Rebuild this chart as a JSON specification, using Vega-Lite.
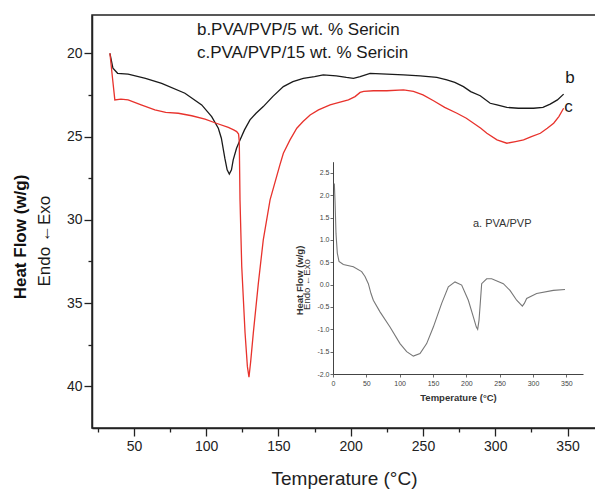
{
  "$schema": "https://vega.github.io/schema/vega-lite/v6.json",
  "width": 504,
  "height": 413,
  "autosize": {"type": "none"},
  "padding": {"left": 92, "top": 15, "right": 0, "bottom": 63},
  "background": "white",
  "config": {
    "view": {"stroke": "#222", "strokeWidth": 1.5},
    "font": "Liberation Sans",
    "axis": {"grid": false, "labelFont": "Liberation Sans", "titleFont": "Liberation Sans"}
  },
  "datasets": {
    "main": [
      {"curve": "b", "t": 33.4, "hf": 20.0},
      {"curve": "b", "t": 35.5, "hf": 20.9},
      {"curve": "b", "t": 38.7, "hf": 21.2},
      {"curve": "b", "t": 46, "hf": 21.25},
      {"curve": "b", "t": 58, "hf": 21.5},
      {"curve": "b", "t": 69.2, "hf": 21.8},
      {"curve": "b", "t": 85.3, "hf": 22.4},
      {"curve": "b", "t": 96.9, "hf": 23.1},
      {"curve": "b", "t": 103.8, "hf": 23.8},
      {"curve": "b", "t": 108.4, "hf": 24.5},
      {"curve": "b", "t": 110.5, "hf": 25.1},
      {"curve": "b", "t": 112.9, "hf": 26.3},
      {"curve": "b", "t": 114.5, "hf": 27.0},
      {"curve": "b", "t": 116, "hf": 27.25},
      {"curve": "b", "t": 117.5, "hf": 27.0},
      {"curve": "b", "t": 118.7, "hf": 26.4},
      {"curve": "b", "t": 121, "hf": 25.7},
      {"curve": "b", "t": 123.4, "hf": 25.2},
      {"curve": "b", "t": 126.5, "hf": 24.6},
      {"curve": "b", "t": 130.3, "hf": 24.0},
      {"curve": "b", "t": 134.5, "hf": 23.6},
      {"curve": "b", "t": 139.5, "hf": 23.2},
      {"curve": "b", "t": 146, "hf": 22.6},
      {"curve": "b", "t": 153.4, "hf": 22.0},
      {"curve": "b", "t": 160, "hf": 21.7},
      {"curve": "b", "t": 167.2, "hf": 21.5},
      {"curve": "b", "t": 175, "hf": 21.4},
      {"curve": "b", "t": 181, "hf": 21.3},
      {"curve": "b", "t": 190, "hf": 21.35},
      {"curve": "b", "t": 197, "hf": 21.45},
      {"curve": "b", "t": 201.9, "hf": 21.5},
      {"curve": "b", "t": 206.5, "hf": 21.4},
      {"curve": "b", "t": 213.4, "hf": 21.2},
      {"curve": "b", "t": 225, "hf": 21.25},
      {"curve": "b", "t": 236.5, "hf": 21.3},
      {"curve": "b", "t": 248, "hf": 21.35},
      {"curve": "b", "t": 259.6, "hf": 21.45},
      {"curve": "b", "t": 266.5, "hf": 21.6},
      {"curve": "b", "t": 272, "hf": 21.75},
      {"curve": "b", "t": 278, "hf": 22.0},
      {"curve": "b", "t": 283, "hf": 22.3},
      {"curve": "b", "t": 289.6, "hf": 22.55},
      {"curve": "b", "t": 296.5, "hf": 23.0},
      {"curve": "b", "t": 301.2, "hf": 23.1},
      {"curve": "b", "t": 308, "hf": 23.25},
      {"curve": "b", "t": 316, "hf": 23.3},
      {"curve": "b", "t": 326.5, "hf": 23.3},
      {"curve": "b", "t": 333, "hf": 23.25},
      {"curve": "b", "t": 338, "hf": 23.05},
      {"curve": "b", "t": 343, "hf": 22.8},
      {"curve": "b", "t": 347.3, "hf": 22.45},
      {"curve": "c", "t": 33.4, "hf": 20.0},
      {"curve": "c", "t": 35.2, "hf": 21.5},
      {"curve": "c", "t": 36.8, "hf": 22.8},
      {"curve": "c", "t": 41, "hf": 22.75},
      {"curve": "c", "t": 46, "hf": 22.8},
      {"curve": "c", "t": 55, "hf": 23.1},
      {"curve": "c", "t": 64.5, "hf": 23.4},
      {"curve": "c", "t": 72, "hf": 23.55},
      {"curve": "c", "t": 80.7, "hf": 23.6},
      {"curve": "c", "t": 90, "hf": 23.75},
      {"curve": "c", "t": 99.2, "hf": 23.95},
      {"curve": "c", "t": 107, "hf": 24.2},
      {"curve": "c", "t": 115.3, "hf": 24.45},
      {"curve": "c", "t": 119, "hf": 24.6},
      {"curve": "c", "t": 121.1, "hf": 24.7},
      {"curve": "c", "t": 122.4, "hf": 24.85},
      {"curve": "c", "t": 122.9, "hf": 25.3},
      {"curve": "c", "t": 123.4, "hf": 28.8},
      {"curve": "c", "t": 124.6, "hf": 32.8},
      {"curve": "c", "t": 126.9, "hf": 36.8},
      {"curve": "c", "t": 128.5, "hf": 38.8},
      {"curve": "c", "t": 129.6, "hf": 39.45},
      {"curve": "c", "t": 130.8, "hf": 38.5},
      {"curve": "c", "t": 132.6, "hf": 36.8},
      {"curve": "c", "t": 136.1, "hf": 33.8},
      {"curve": "c", "t": 139.5, "hf": 31.2},
      {"curve": "c", "t": 144.2, "hf": 28.8},
      {"curve": "c", "t": 151, "hf": 26.7},
      {"curve": "c", "t": 153.4, "hf": 26.0},
      {"curve": "c", "t": 158, "hf": 25.2},
      {"curve": "c", "t": 162.7, "hf": 24.5},
      {"curve": "c", "t": 167, "hf": 24.1},
      {"curve": "c", "t": 171.9, "hf": 23.7},
      {"curve": "c", "t": 177.7, "hf": 23.4},
      {"curve": "c", "t": 185.7, "hf": 23.1},
      {"curve": "c", "t": 192, "hf": 22.95},
      {"curve": "c", "t": 198.4, "hf": 22.8},
      {"curve": "c", "t": 203, "hf": 22.6},
      {"curve": "c", "t": 206.5, "hf": 22.35},
      {"curve": "c", "t": 209, "hf": 22.28},
      {"curve": "c", "t": 215.7, "hf": 22.25},
      {"curve": "c", "t": 225, "hf": 22.25},
      {"curve": "c", "t": 236.5, "hf": 22.2},
      {"curve": "c", "t": 243.4, "hf": 22.28},
      {"curve": "c", "t": 250, "hf": 22.5},
      {"curve": "c", "t": 257.3, "hf": 22.85},
      {"curve": "c", "t": 265, "hf": 23.25},
      {"curve": "c", "t": 273.5, "hf": 23.6},
      {"curve": "c", "t": 280, "hf": 23.9},
      {"curve": "c", "t": 285, "hf": 24.2},
      {"curve": "c", "t": 290, "hf": 24.5},
      {"curve": "c", "t": 294.2, "hf": 24.8},
      {"curve": "c", "t": 301.2, "hf": 25.2},
      {"curve": "c", "t": 308, "hf": 25.4},
      {"curve": "c", "t": 314, "hf": 25.3},
      {"curve": "c", "t": 319.6, "hf": 25.2},
      {"curve": "c", "t": 325, "hf": 25.0},
      {"curve": "c", "t": 331.2, "hf": 24.8},
      {"curve": "c", "t": 336, "hf": 24.5},
      {"curve": "c", "t": 340.4, "hf": 24.2},
      {"curve": "c", "t": 344, "hf": 23.8},
      {"curve": "c", "t": 347.3, "hf": 23.3}
    ],
    "labels": [
      {"t": 93.6, "hf": 18.9, "label": "b.PVA/PVP/5 wt. % Sericin"},
      {"t": 93.6, "hf": 20.28, "label": "c.PVA/PVP/15 wt. % Sericin"},
      {"t": 348.5, "hf": 21.79, "label": "b"},
      {"t": 347.8, "hf": 23.53, "label": "c"}
    ],
    "inset": [
      {"t": 2, "hf": 2.26},
      {"t": 3, "hf": 1.89},
      {"t": 4.5, "hf": 1.14},
      {"t": 6.5, "hf": 0.70},
      {"t": 9, "hf": 0.52},
      {"t": 15.5, "hf": 0.45},
      {"t": 30.5, "hf": 0.40},
      {"t": 43, "hf": 0.29},
      {"t": 48, "hf": 0.18},
      {"t": 53, "hf": 0.02},
      {"t": 57, "hf": -0.2},
      {"t": 60.5, "hf": -0.35},
      {"t": 70.5, "hf": -0.61},
      {"t": 85.5, "hf": -0.95},
      {"t": 100.5, "hf": -1.32},
      {"t": 110.5, "hf": -1.50},
      {"t": 120.5, "hf": -1.60},
      {"t": 130.5, "hf": -1.54},
      {"t": 140.5, "hf": -1.32},
      {"t": 150.5, "hf": -0.95},
      {"t": 163, "hf": -0.42},
      {"t": 173, "hf": -0.05},
      {"t": 183, "hf": 0.06},
      {"t": 193, "hf": -0.01},
      {"t": 203, "hf": -0.35},
      {"t": 210.5, "hf": -0.72},
      {"t": 215, "hf": -0.95},
      {"t": 217, "hf": -1.0},
      {"t": 219, "hf": -0.8},
      {"t": 220.5, "hf": -0.5},
      {"t": 223, "hf": 0.02},
      {"t": 230.5, "hf": 0.13},
      {"t": 238, "hf": 0.13},
      {"t": 255.5, "hf": 0.02},
      {"t": 265.5, "hf": -0.13},
      {"t": 275.5, "hf": -0.35},
      {"t": 284, "hf": -0.48},
      {"t": 287, "hf": -0.42},
      {"t": 290.5, "hf": -0.31},
      {"t": 305.5, "hf": -0.2},
      {"t": 330.5, "hf": -0.13},
      {"t": 348, "hf": -0.11}
    ]
  },
  "layer": [
    {
      "layer": [
        {
          "data": {"name": "main"},
          "mark": {"type": "line", "strokeWidth": 1.3},
          "encoding": {
            "x": {
              "field": "t", "type": "quantitative",
              "scale": {"domain": [21, 369.7], "nice": false, "zero": false},
              "axis": {
                "orient": "bottom",
                "values": [50, 100, 150, 200, 250, 300, 350],
                "tickSize": 8,
                "tickColor": "#222", "tickWidth": 1.3,
                "domainColor": "#222", "domainWidth": 1.5,
                "labelFontSize": 14, "labelColor": "#222", "labelPadding": 3,
                "labelFlush": false, "labelOverlap": false,
                "title": "Temperature (°C)", "titleFontSize": 19, "titleFontWeight": "normal",
                "titleColor": "#222", "titleY": 56, "titleBaseline": "alphabetic"
              }
            },
            "y": {
              "field": "hf", "type": "quantitative",
              "scale": {"domain": [17.7, 42.5], "reverse": true, "nice": false, "zero": false},
              "axis": {
                "orient": "left",
                "values": [20, 25, 30, 35, 40],
                "tickSize": 8,
                "tickColor": "#222", "tickWidth": 1.3,
                "domainColor": "#222", "domainWidth": 1.5,
                "labelFontSize": 14, "labelColor": "#222", "labelPadding": 2,
                "labelFlush": false, "labelOverlap": false,
                "title": "Heat Flow (w/g)", "titleFontSize": 17, "titleFontWeight": "bold",
                "titleColor": "#111", "titleAngle": 270, "titleX": -67, "titleY": 221.5,
                "titleAlign": "center", "titleBaseline": "alphabetic"
              }
            },
            "color": {
              "field": "curve", "type": "nominal",
              "scale": {"domain": ["b", "c"], "range": ["#1a1a1a", "#e8322c"]},
              "legend": null
            }
          }
        },
        {
          "data": {"name": "labels"},
          "mark": {"type": "text", "fontSize": 17, "align": "left", "baseline": "alphabetic", "color": "#1a1a1a"},
          "encoding": {
            "x": {"field": "t", "type": "quantitative"},
            "y": {"field": "hf", "type": "quantitative"},
            "text": {"field": "label"}
          }
        },
        {
          "data": {"values": [{"t": 21, "hf": 31.28, "label": "Endo ←Exo"}]},
          "mark": {"type": "text", "angle": 270, "dy": -42, "fontSize": 17, "align": "center", "baseline": "alphabetic", "color": "#1a1a1a"},
          "encoding": {
            "x": {"field": "t", "type": "quantitative"},
            "y": {"field": "hf", "type": "quantitative"},
            "text": {"field": "label"}
          }
        }
      ]
    },
    {
      "data": {"name": "labels"},
      "mark": {"type": "point", "opacity": 0},
      "encoding": {
        "x": {
          "field": "t", "type": "quantitative",
          "scale": {"domain": [21, 369.7], "nice": false, "zero": false},
          "axis": {
            "orient": "bottom", "values": [25, 75, 125, 175, 225, 275, 325],
            "labels": false, "domain": false, "tickSize": 4, "tickColor": "#222", "tickWidth": 1.3, "title": null
          }
        },
        "y": {
          "field": "hf", "type": "quantitative",
          "scale": {"domain": [17.7, 42.5], "reverse": true, "nice": false, "zero": false},
          "axis": {
            "orient": "left", "values": [22.5, 27.5, 32.5, 37.5],
            "labels": false, "domain": false, "tickSize": 4, "tickColor": "#222", "tickWidth": 1.3, "title": null
          }
        }
      }
    },
    {
      "layer": [
        {
          "data": {"name": "inset"},
          "mark": {"type": "line", "color": "#777", "strokeWidth": 1.1},
          "encoding": {
            "x": {
              "field": "t", "type": "quantitative",
              "scale": {"domain": [0, 375], "range": [241, 491], "nice": false, "zero": false},
              "axis": {
                "orient": "bottom", "offset": -54,
                "values": [0, 25, 50, 75, 100, 125, 150, 175, 200, 225, 250, 275, 300, 325, 350, 375],
                "labelExpr": "datum.value % 50 === 0 ? datum.label : ''",
                "tickSize": {"condition": {"test": "datum.value % 50 === 0", "value": 3}, "value": 2},
                "tickColor": "#444", "tickWidth": 0.8,
                "domainColor": "#444", "domainWidth": 1,
                "labelFontSize": 7, "labelColor": "#444", "labelPadding": 2,
                "labelFlush": false, "labelOverlap": false,
                "title": "Temperature (°C)", "titleFontSize": 9.5, "titleFontWeight": "bold",
                "titleColor": "#333", "titleY": 26, "titleBaseline": "alphabetic"
              }
            },
            "y": {
              "field": "hf", "type": "quantitative",
              "scale": {"domain": [-2, 2.75], "range": [359, 146.7], "nice": false, "zero": false},
              "axis": {
                "orient": "left", "offset": -241,
                "values": [-2, -1.75, -1.5, -1.25, -1, -0.75, -0.5, -0.25, 0, 0.25, 0.5, 0.75, 1, 1.25, 1.5, 1.75, 2, 2.25, 2.5],
                "format": ".1f",
                "labelExpr": "abs(datum.value * 2 - round(datum.value * 2)) < 0.001 ? replace(datum.label, '−', '-') : ''",
                "tickSize": {"condition": {"test": "abs(datum.value * 2 - round(datum.value * 2)) < 0.001", "value": 3}, "value": 2},
                "tickColor": "#444", "tickWidth": 0.8,
                "domainColor": "#444", "domainWidth": 1,
                "labelFontSize": 7, "labelColor": "#444", "labelPadding": 1,
                "labelFlush": false, "labelOverlap": false,
                "title": "Heat Flow (w/g)", "titleFontSize": 9.5, "titleFontWeight": "bold",
                "titleColor": "#333", "titleAngle": 270, "titleX": -30.5, "titleY": 265,
                "titleAlign": "center", "titleBaseline": "alphabetic"
              }
            }
          }
        },
        {
          "data": {"values": [{"t": 210, "hf": 1.285, "label": "a. PVA/PVP"}]},
          "mark": {"type": "text", "fontSize": 11, "align": "left", "baseline": "alphabetic", "color": "#333"},
          "encoding": {
            "x": {"field": "t", "type": "quantitative"},
            "y": {"field": "hf", "type": "quantitative"},
            "text": {"field": "label"}
          }
        },
        {
          "data": {"values": [{"t": 0, "hf": 0, "label": "Endo ←Exo"}]},
          "mark": {"type": "text", "angle": 270, "dy": -23.5, "fontSize": 9.5, "align": "center", "baseline": "alphabetic", "color": "#333"},
          "encoding": {
            "x": {"field": "t", "type": "quantitative"},
            "y": {"field": "hf", "type": "quantitative"},
            "text": {"field": "label"}
          }
        }
      ]
    }
  ],
  "resolve": {
    "scale": {"x": "independent", "y": "independent"},
    "axis": {"x": "independent", "y": "independent"}
  }
}
